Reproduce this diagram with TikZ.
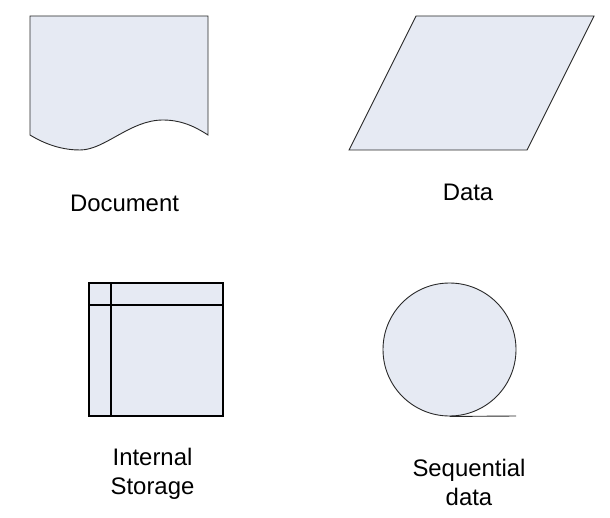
\documentclass[tikz,border=0pt]{standalone}
\usepackage{fontspec}
\setmainfont{Liberation Sans}
\definecolor{shapefill}{RGB}{230,234,243}
\definecolor{shapeline}{RGB}{40,40,40}
\begin{document}
\begin{tikzpicture}[x=1bp,y=-1bp,
  shapestyle/.style={fill=shapefill,draw=shapeline,line width=0.9bp,line join=miter},
  gridline/.style={draw=black,line width=1.3bp},
  lbl/.style={font=\fontsize{24}{29}\selectfont,anchor=base,align=center,inner sep=0pt}]
\useasboundingbox[fill=white] (0,0) rectangle (610,518);
% Document
\path[shapestyle] (30,16) -- (208,16) -- (208,135)
  .. controls (200,130) and (185,120) .. (163,120)
  .. controls (130,120) and (105,150) .. (80,150)
  .. controls (65,150) and (48,146) .. (30,135) -- cycle;
\node[lbl] (doc) at (124.5,212) {Document};
% Data
\path[shapestyle] (416,16) -- (594,16) -- (527,150) -- (349,150) -- cycle;
\node[lbl] (data) at (468,201) {Data};
% Internal storage
\path[shapestyle,draw=black,line width=1.3bp] (89,283) rectangle (223,416);
\draw[gridline] (111,283) -- (111,416);
\draw[gridline] (89,305) -- (223,305);
\node[lbl] (store) at (152.5,494) {Internal\\Storage};
% Sequential data
\node[shapestyle,circle,minimum size=133bp,inner sep=0pt] (seq) at (449.5,349.5) {};
\coordinate (tail) at (516,416);
\draw[shapeline,line width=0.9bp] (seq.south) -- (tail);
\node[lbl] (seqlbl) at (469,505) {Sequential\\data};
\end{tikzpicture}
\end{document}
